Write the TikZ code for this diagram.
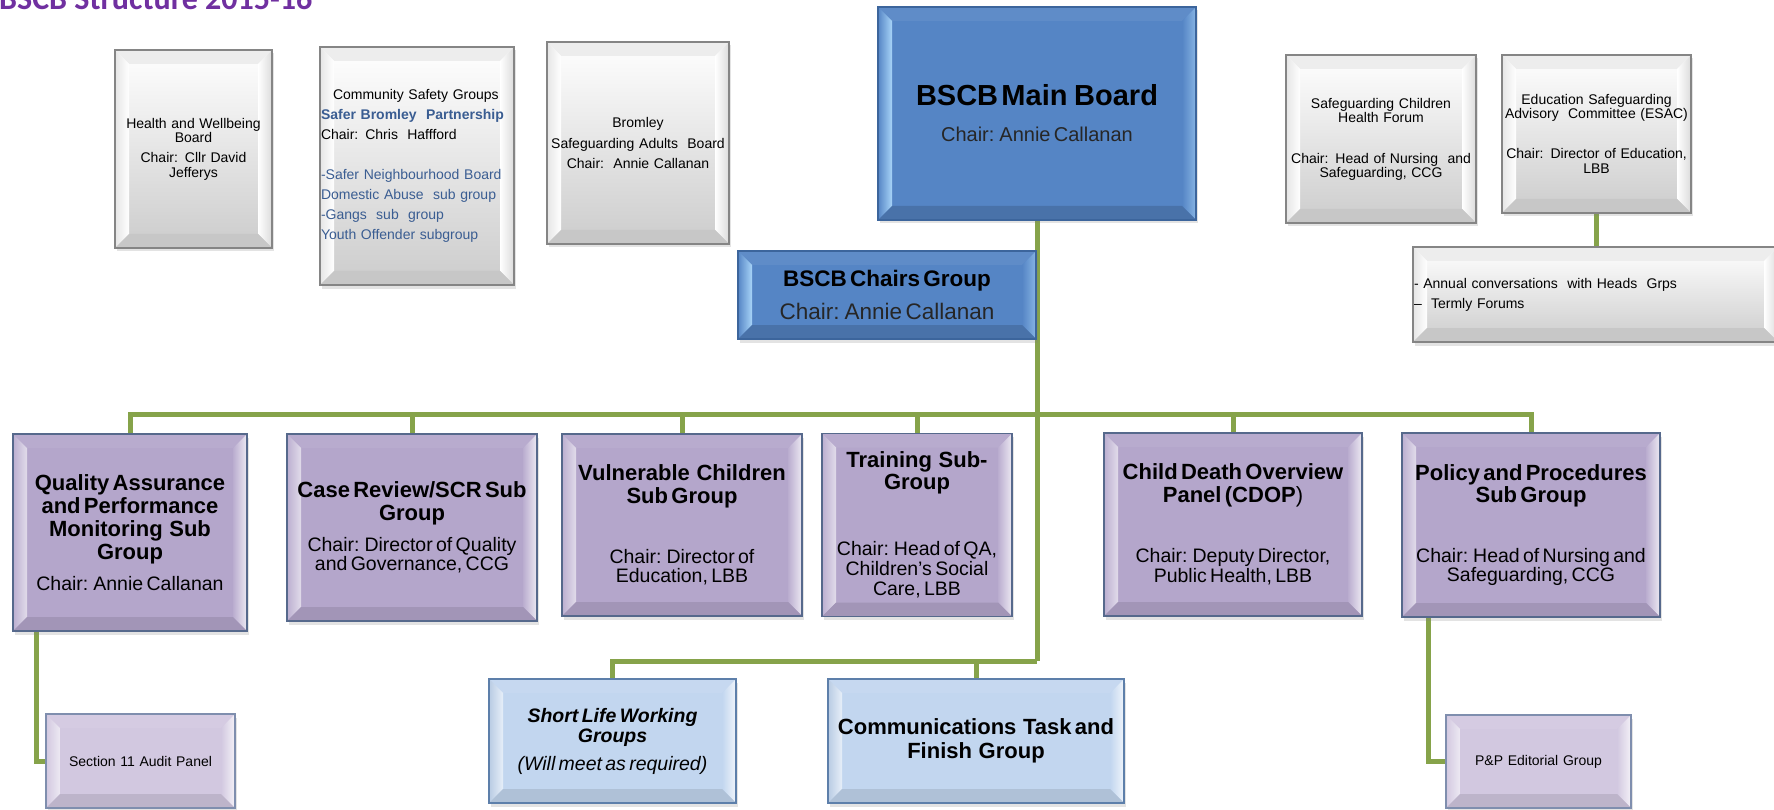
\documentclass[tikz,border=0pt]{standalone}
\usepackage{fontspec}
\setmainfont{Liberation Sans}
\newfontfamily\titlefont{Carlito}
\usetikzlibrary{shadows,backgrounds}

\definecolor{linkgreen}{HTML}{86A34A}
\definecolor{purpface}{HTML}{B4A6CB}
\definecolor{purpedge}{HTML}{56698C}
\definecolor{lpurpface}{HTML}{D2C8E0}
\definecolor{lpurpedge}{HTML}{7F8EAE}
\definecolor{lblueface}{HTML}{C2D6EF}
\definecolor{lblueedge}{HTML}{5D7FAA}
\definecolor{blueface}{HTML}{5585C5}
\definecolor{bluehl}{HTML}{A8D4F8}
\definecolor{blueedge}{HTML}{3C659C}
\definecolor{grayedge}{HTML}{858585}
\definecolor{titlepurple}{HTML}{7030A0}
\definecolor{csblue}{HTML}{3A5D92}

\newcommand\boldhead{\fontsize{22}{23}\selectfont\bfseries}
\newcommand\chairtext{\fontsize{19.5}{19.5}\selectfont\mdseries}

\tikzset{
  % four bevel bands: top, left, right, bottom
  bevel/.style n args={4}{path picture={
    \path (path picture bounding box.north west) coordinate (bvNW)
          (path picture bounding box.north east) coordinate (bvNE)
          (path picture bounding box.south west) coordinate (bvSW)
          (path picture bounding box.south east) coordinate (bvSE);
    \path[#1] (bvNW) -- (bvNE) -- ([shift={(-14pt,-14pt)}]bvNE) -- ([shift={(14pt,-14pt)}]bvNW) -- cycle;
    \path[#2] (bvNW) -- ([shift={(14pt,-14pt)}]bvNW) -- ([shift={(14pt,14pt)}]bvSW) -- (bvSW) -- cycle;
    \path[#3] (bvNE) -- (bvSE) -- ([shift={(-14pt,14pt)}]bvSE) -- ([shift={(-14pt,-14pt)}]bvNE) -- cycle;
    \path[#4] (bvSW) -- ([shift={(14pt,14pt)}]bvSW) -- ([shift={(-14pt,14pt)}]bvSE) -- (bvSE) -- cycle;
  }},
  boxbase/.style={rectangle, inner sep=0pt, line width=1.6pt, align=center,
    drop shadow={shadow xshift=1.5pt, shadow yshift=-3.5pt, opacity=0.22}},
  graybox/.style={boxbase, draw=grayedge, top color=white, bottom color=black!20,
    bevel={fill=black!7}{left color=black!10, right color=white}{left color=white, right color=black!14}{fill=black!22},
    font=\fontsize{14}{14}\selectfont},
  bluebox/.style={boxbase, draw=blueedge, fill=blueface,
    bevel={fill=blueface!94!white}{left color=blueface, right color=bluehl}{left color=blueface, right color=bluehl!60!blueface}{fill=blueface!86!black}},
  purplebox/.style={boxbase, draw=purpedge, fill=purpface,
    bevel={fill=purpface!94!white}{left color=purpface!90!white, right color=white!60!purpface}{left color=purpface!92!white, right color=white!75!purpface}{fill=purpface!90!black}},
  lpurplebox/.style={boxbase, draw=lpurpedge, fill=lpurpface,
    bevel={fill=lpurpface!94!white}{left color=lpurpface, right color=white!60!lpurpface}{left color=lpurpface, right color=white!75!lpurpface}{fill=lpurpface!90!black},
    font=\fontsize{14}{14}\selectfont},
  lbluebox/.style={boxbase, draw=lblueedge, fill=lblueface,
    bevel={fill=lblueface!94!white}{left color=lblueface!95!black, right color=white!60!lblueface}{left color=lblueface, right color=white!75!lblueface}{fill=lblueface!90!black}},
  link/.style={draw=linkgreen, line width=5pt},
}

\begin{document}
\begin{tikzpicture}[x=1pt,y=-1pt]
\useasboundingbox (0,0) rectangle (1774,810);

% heading
\node[anchor=base west, inner sep=0pt, text=titlepurple,
      font={\fontsize{32}{32}\selectfont\titlefont\bfseries}] (title) at (-1,9.5) {BSCB Structure 2015-16};

% partner boards (top row)
\node[graybox, minimum width=157, minimum height=198, text width=150pt] (hwb) at (193.5,149)
  {Health and Wellbeing\\Board\\[6pt]Chair: Cllr David\\[1pt]Jefferys};

\node[graybox, minimum width=194, minimum height=238, text width=192pt, align=left,
      font=\fontsize{14}{20}\selectfont] (csg) at (417,166)
  {\hspace*{12pt}Community Safety Groups\\
   \textcolor{csblue}{\textbf{Safer Bromley\ \ Partnership}}\\
   Chair: Chris\ \ Haffford\\[20pt]
   \textcolor{csblue}{-Safer Neighbourhood Board}\\
   \textcolor{csblue}{Domestic Abuse\ \ sub group}\\
   \textcolor{csblue}{-Gangs\ \ sub\ \ group}\\
   \textcolor{csblue}{Youth Offender subgroup}};

\node[graybox, minimum width=182, minimum height=202, text width=178pt,
      font=\fontsize{14}{20.5}\selectfont] (sab) at (638,143)
  {Bromley\\Safeguarding Adults\ \ Board\\Chair:\ \ Annie Callanan};

\node[bluebox, minimum width=318, minimum height=213, text width=300pt] (main) at (1037,113.5)
  {{\fontsize{29}{30}\selectfont\bfseries BSCB Main\ \ Board\par}\vspace{16pt}%
   {\fontsize{20}{20}\selectfont\color{black!85}Chair: Annie Callanan\par}};

\node[bluebox, minimum width=298, minimum height=88, text width=290pt] (chairs) at (887,295)
  {{\fontsize{22.5}{23}\selectfont\bfseries BSCB Chairs Group\par}\vspace{10pt}%
   {\fontsize{22.5}{23}\selectfont\color{black!85}Chair: Annie Callanan\par}};

\node[graybox, minimum width=190, minimum height=168, text width=186pt] (schf) at (1381,139)
  {Safeguarding Children\\Health Forum\\[27pt]Chair: Head of Nursing\ \ and\\Safeguarding, CCG};

\node[graybox, minimum width=189, minimum height=158, text width=186pt] (esac) at (1596.5,134)
  {Education Safeguarding\\Advisory\ \ Committee (ESAC)\\[26pt]Chair: Director of Education,\\[1pt]LBB};

\node[graybox, minimum width=365, minimum height=95, text width=363pt, align=left,
      font=\fontsize{14}{20}\selectfont] (annual) at (1595.5,294.5)
  {- Annual conversations\ \ with Heads\ \ Grps\\--\ \ Termly Forums};

% sub groups
\node[purplebox, minimum width=234, minimum height=197, text width=228pt] (qa) at (130,532.5)
  {{\boldhead Quality Assurance\\and Performance\\Monitoring\ \ Sub\\Group\par}\vspace{11.5pt}%
   {\chairtext Chair: Annie Callanan\par}};

\node[purplebox, minimum width=250, minimum height=187, text width=246pt] (cr) at (412,527.5)
  {{\fontsize{22}{22.5}\selectfont\bfseries Case Review/SCR Sub\\Group\par}\vspace{12.5pt}%
   {\fontsize{19.5}{19}\selectfont Chair: Director of Quality\\and Governance, CCG\par}};

\node[purplebox, minimum width=240, minimum height=182, text width=234pt] (vcs) at (682,525)
  {{\boldhead Vulnerable\ \ Children\\Sub Group\par}\vspace{40.5pt}%
   {\chairtext Chair: Director of\\Education, LBB\par}};

\node[purplebox, minimum width=190, minimum height=183, text width=186pt] (trn) at (917,525)
  {{\fontsize{22}{22}\selectfont\bfseries Training\ \ Sub-\\Group\par}\vspace{45.5pt}%
   {\fontsize{19.5}{20}\selectfont Chair: Head of QA,\\Children’s Social\\Care, LBB\par}};

\node[purplebox, minimum width=258, minimum height=183, text width=250pt] (cdop) at (1233,524.5)
  {{\boldhead Child Death Overview\\Panel (CDOP{\mdseries )}\par}\vspace{40.5pt}%
   {\chairtext Chair: Deputy Director,\\Public Health, LBB\par}};

\node[purplebox, minimum width=258, minimum height=184, text width=250pt] (pol) at (1531,525)
  {{\fontsize{22}{22}\selectfont\bfseries Policy and Procedures\\Sub Group\par}\vspace{40.5pt}%
   {\chairtext Chair: Head of Nursing and\\Safeguarding, CCG\par}};

% lower level groups
\node[lpurplebox, minimum width=189, minimum height=94, text width=185pt] (s11) at (140.5,761)
  {Section 11 Audit Panel};

\node[lbluebox, minimum width=247, minimum height=124, text width=240pt] (slw) at (612.5,741)
  {{\fontsize{19.5}{20}\selectfont\bfseries\itshape Short Life Working\\Groups\par}\vspace{8pt}%
   {\fontsize{19.5}{20}\selectfont\itshape (Will meet as required)\par}};

\node[lbluebox, minimum width=296, minimum height=124, text width=292pt] (comms) at (976,741)
  {{\fontsize{22}{24}\selectfont\bfseries Communications\ \ Task and\\Finish\ \ Group\par}};

\node[lpurplebox, minimum width=185, minimum height=93, text width=180pt] (ppe) at (1538.5,761.5)
  {P\&P Editorial Group};

% connectors, behind the boxes
\coordinate (busy) at (0,414);
\coordinate (lowy) at (0,661);
\begin{pgfonlayer}{background}
  \fill[white] (0,0) rectangle (1774,810);
  \draw[link] (main.south) -- (main.south |- lowy);
  \draw[link] (qa.north) -- (qa.north |- busy) -- (pol.north |- busy) -- (pol.north);
  \foreach \n in {cr,vcs,trn,cdop}
    \draw[link] (\n.north) -- (\n.north |- busy);
  \draw[link] (slw.north) -- (slw.north |- lowy) -- (main.south |- lowy);
  \draw[link] (comms.north) -- (comms.north |- lowy);
  \draw[link] (s11.west) -| ([xshift=24pt]qa.south west);
  \draw[link] (ppe.west) -| ([xshift=27pt]pol.south west);
  \draw[link] (esac.south) -- (annual.north -| esac.south);
\end{pgfonlayer}
\end{tikzpicture}
\end{document}
